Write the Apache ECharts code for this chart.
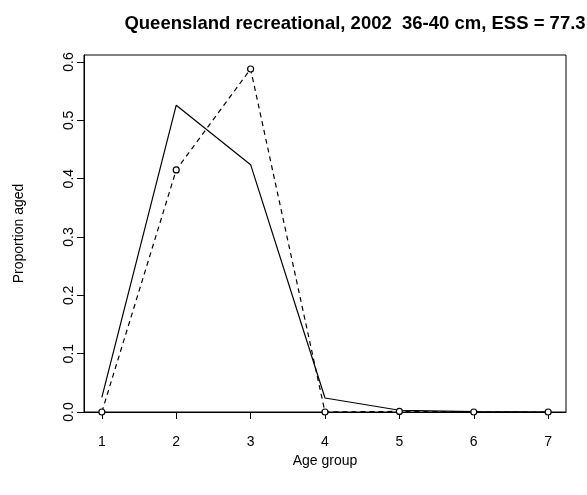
<!DOCTYPE html>
<html>
<head>
<meta charset="utf-8">
<script src="https://cdn.jsdelivr.net/npm/echarts@6/dist/echarts.min.js"></script>
<style>
  html, body { margin: 0; padding: 0; background: #fff; }
  #chart { width: 587px; height: 495px; }
</style>
</head>
<body>
<div id="chart"></div>
<script>
// Age groups on the x axis
var ageGroups = [1, 2, 3, 4, 5, 6, 7];
// Observed proportion aged (dashed line with open circles)
var observed = [0, 0.415, 0.588, 0, 0.001, 0, 0];
// Expected proportion aged (solid line)
var expected = [0.025, 0.526, 0.424, 0.024, 0.003, 0.0005, 0];
// Tick values on the y axis
var yTicks = [0, 0.1, 0.2, 0.3, 0.4, 0.5, 0.6];

function pairs(xs, ys) {
  return xs.map(function (x, i) { return [x, ys[i]]; });
}

var font = 'Liberation Sans, Arial, sans-serif';
var chart = echarts.init(document.getElementById('chart'));
chart.setOption({
  animation: false,
  backgroundColor: '#fff',
  title: {
    text: 'Queensland recreational, 2002  36-40 cm, ESS = 77.3',
    left: 350,
    top: 9,
    textAlign: 'center',
    textStyle: { fontFamily: font, fontSize: 18.5, fontWeight: 'bold', color: '#000' }
  },
  grid: {
    left: 84, right: 21, top: 55, bottom: 83,
    show: true, borderColor: '#000', borderWidth: 1, backgroundColor: 'transparent'
  },
  xAxis: {
    type: 'value',
    min: 0.76,
    max: 7.24,
    name: 'Age group',
    nameLocation: 'middle',
    nameGap: 38,
    nameTextStyle: { fontFamily: font, fontSize: 14, color: '#000' },
    axisLine: { show: true, lineStyle: { color: '#000', width: 1 } },
    axisTick: { show: true, length: 7, customValues: ageGroups, lineStyle: { color: '#000' } },
    axisLabel: { customValues: ageGroups, margin: 23, fontFamily: font, fontSize: 14, color: '#000' },
    splitLine: { show: false }
  },
  yAxis: {
    type: 'value',
    min: 0,
    max: 0.612,
    name: 'Proportion aged',
    nameLocation: 'middle',
    nameGap: 58,
    nameTextStyle: { fontFamily: font, fontSize: 14, color: '#000' },
    axisLine: { show: true, lineStyle: { color: '#000', width: 1 } },
    axisTick: { show: true, length: 7, customValues: yTicks, lineStyle: { color: '#000' } },
    axisLabel: {
      customValues: yTicks, rotate: 90, margin: 8,
      fontFamily: font, fontSize: 14, color: '#000',
      formatter: function (v) { return v.toFixed(1); }
    },
    splitLine: { show: false }
  },
  series: [
    {
      name: 'Expected',
      type: 'line',
      data: pairs(ageGroups, expected),
      symbol: 'none',
      lineStyle: { color: '#000', width: 1.2 },
      z: 3
    },
    {
      name: 'Observed',
      type: 'line',
      data: pairs(ageGroups, observed),
      symbol: 'circle',
      symbolSize: 6,
      itemStyle: { color: '#fff', borderColor: '#000', borderWidth: 1.2 },
      lineStyle: { color: '#000', width: 1.2, type: [5, 4] },
      z: 4
    }
  ]
});
</script>
</body>
</html>
